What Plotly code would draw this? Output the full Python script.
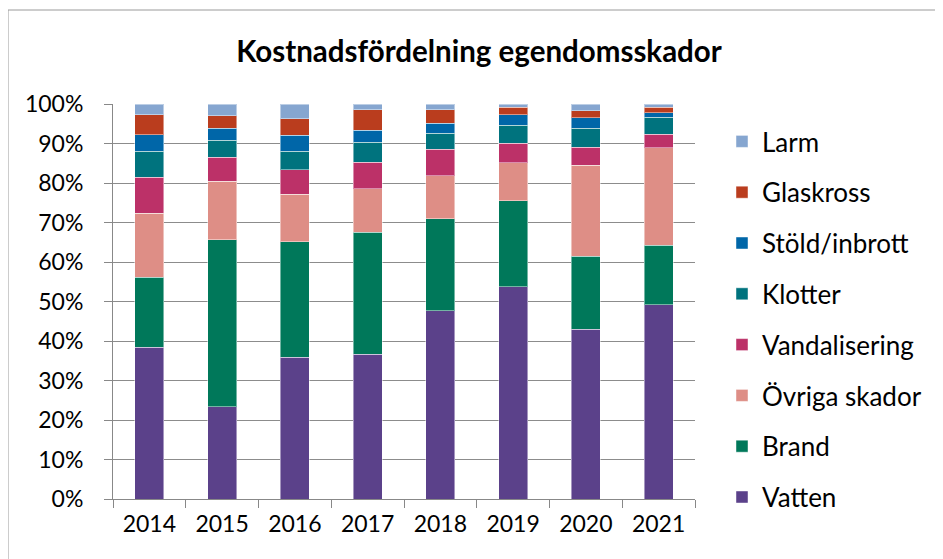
import plotly.graph_objects as go

years = ["2014", "2015", "2016", "2017", "2018", "2019", "2020", "2021"]

vatten = [38.4, 23.3, 35.9, 36.6, 47.6, 53.7, 43.0, 49.2]
brand = [17.8, 42.3, 29.2, 30.9, 23.3, 21.8, 18.5, 15.0]
ovriga = [16.2, 14.9, 12.1, 11.0, 10.9, 9.6, 23.0, 24.7]
vandal = [9.0, 6.0, 6.2, 6.7, 6.7, 5.0, 4.5, 3.4]
klotter = [6.6, 4.3, 4.6, 5.1, 4.1, 4.5, 4.8, 4.3]
stold = [4.2, 3.0, 4.1, 3.0, 2.5, 2.7, 2.7, 1.2]
glas = [5.1, 3.2, 4.2, 5.3, 3.5, 1.9, 1.8, 1.4]
larm = [2.7, 3.0, 3.7, 1.4, 1.4, 0.8, 1.7, 0.8]

y_ticks = [0, 10, 20, 30, 40, 50, 60, 70, 80, 90, 100]
y_labels = [f"{v}%" for v in y_ticks]

series = [
    ("Vatten", vatten, "#5B418A"),
    ("Brand", brand, "#00785A"),
    ("Övriga skador", ovriga, "#DE8E86"),
    ("Vandalisering", vandal, "#BC3168"),
    ("Klotter", klotter, "#00737E"),
    ("Stöld/inbrott", stold, "#0066A8"),
    ("Glaskross", glas, "#BA3D1E"),
    ("Larm", larm, "#86A6D0"),
]

FONT = "Lato, 'Open Sans', sans-serif"

fig = go.Figure()
for i, (name, vals, color) in enumerate(series):
    fig.add_trace(go.Bar(
        x=years, y=vals, name=name, legendgroup=name, legendrank=1000 - i,
        marker=dict(color=color, line=dict(color="rgba(255,255,255,0.45)", width=1)),
    ))

# figure is drawn with an 8px page offset (browser body margin)
OFF = 8
W, H = 943 - OFF, 559 - OFF
L, R, T, B = 113 - OFF, 695 - OFF, 104 - OFF, 499 - OFF
pw, ph = R - L, B - T

def px(x):
    return (x - OFF - L) / pw

def py(y):
    return (B - (y - OFF)) / ph

fig.update_layout(
    width=W, height=H,
    margin=dict(l=L, r=W - R, t=T, b=H - B, pad=0, autoexpand=False),
    barmode="stack",
    bargap=0.6,
    paper_bgcolor="white",
    plot_bgcolor="white",
    font=dict(family=FONT, size=23, color="black"),
    title=dict(
        text="<b>Kostnadsfördelning egendomsskador</b>",
        x=(479 - OFF) / W, xanchor="center", xref="container",
        y=1 - (52 - OFF) / H, yanchor="middle", yref="container",
        font=dict(family=FONT, size=29.5, color="black"),
    ),
    legend=dict(
        traceorder="grouped",
        tracegroupgap=14,
        x=px(722), xanchor="left",
        y=py(118), yanchor="top",
        maxheight=1000,
        font=dict(family=FONT, size=26, color="black"),
        bgcolor="rgba(0,0,0,0)",
    ),
    xaxis=dict(
        type="category",
        showline=True, linecolor="#888888", linewidth=1,
        ticks="outside", tickson="boundaries", ticklen=8, tickcolor="#888888",
        showgrid=False,
        tickfont=dict(family=FONT, size=23, color="black"),
        ticklabelstandoff=4,
    ),
    yaxis=dict(
        range=[0, 100],
        tickmode="array", tickvals=y_ticks, ticktext=y_labels,
        showline=True, linecolor="#888888", linewidth=1,
        ticks="outside", ticklen=8, tickcolor="#888888",
        showgrid=True, gridcolor="#8c8c8c", gridwidth=1,
        zeroline=False,
        tickfont=dict(family=FONT, size=23, color="black"),
        ticklabelstandoff=16,
    ),
    shapes=[dict(
        type="rect", xref="paper", yref="paper",
        x0=px(8), x1=px(980), y0=py(600), y1=py(10),
        line=dict(color="#9a9a9a", width=1), fillcolor="rgba(0,0,0,0)", layer="below",
    )],
)

fig.write_html("out.html")
